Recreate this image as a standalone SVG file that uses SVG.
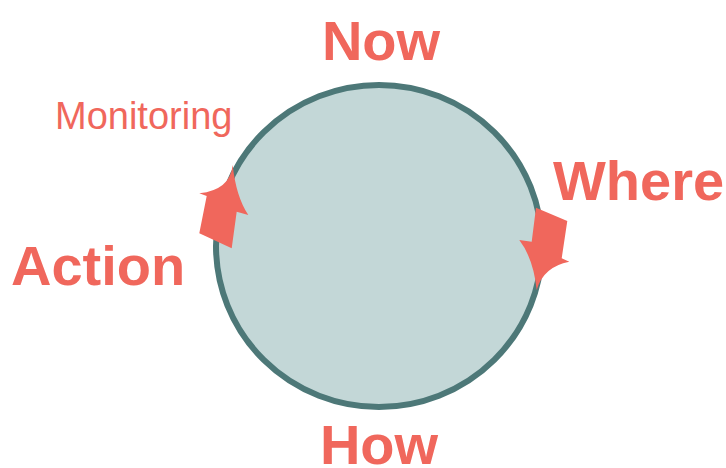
<svg xmlns="http://www.w3.org/2000/svg" width="726" height="468" viewBox="0 0 726 468">
<style>
.lbl{font-family:"Liberation Sans",Arial,sans-serif;fill:#f0675c}
.big{font-size:56px;font-weight:bold}
.small{font-size:38px}
.arrow{fill:#f0675c;stroke:none}
</style>
<rect width="726" height="468" fill="#ffffff"/>
<g id="cycle">
<ellipse cx="379" cy="246" rx="163" ry="161" fill="#c3d7d7" stroke="#4d7878" stroke-width="6"/>
</g>
<g id="now"><text class="lbl big" x="381" y="60" text-anchor="middle">Now</text></g>
<g id="where"><text class="lbl big" x="553" y="200">Where</text></g>
<g id="how"><text class="lbl big" x="379" y="464" text-anchor="middle">How</text></g>
<g id="action"><text class="lbl big" x="11" y="285">Action</text></g>
<g id="monitoring"><text class="lbl small" x="55" y="129">Monitoring</text></g>
<g id="connectors">
<path class="arrow" d="M232.7,165 Q230,190 199.3,193.3 L206.7,196 L199.3,233.3 L231.7,248.3 L236.7,211.7 L248.3,215 Q236,196.7 232.7,165 Z"/>
<path class="arrow" d="M536,207.7 L567.3,221 L561.7,258.3 L569.3,261.7 Q543.3,266.7 536.7,290 Q533.3,258.3 519.3,240 L531.7,241.7 Z"/>
</g>
</svg>
